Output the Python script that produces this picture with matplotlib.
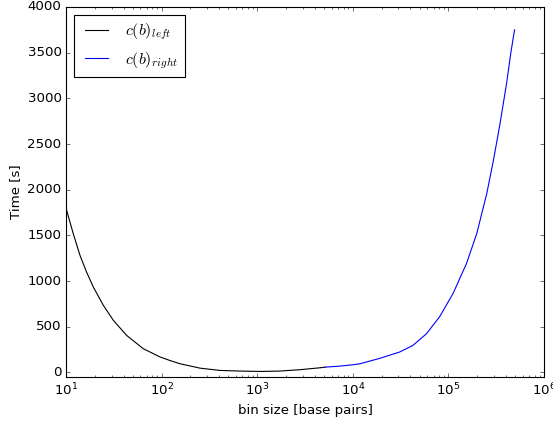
import numpy as np
import matplotlib
matplotlib.use("Agg")
import matplotlib.pyplot as plt

plt.style.use("classic")

# bin size (bp) and time (s)
bins_left = [10, 11.9, 14.0, 16.4, 19.3, 24.6, 31.3, 43.1, 64.3, 96, 122, 156,
             252, 407, 660, 1070, 1730, 2800, 4540, 5150]
time_left = [1800, 1520, 1282, 1099, 935, 734, 570, 405, 260, 170, 131, 95,
             47, 22, 15, 11, 15, 30, 51, 58]

bins_right = [5150, 7300, 10000, 11900, 19000, 30800, 42600, 59000, 81000,
              112000, 155000, 198000, 252000, 296000, 347000, 406000, 450000, 492000]
time_right = [58, 69, 84, 95, 153, 223, 296, 424, 610,
              865, 1195, 1520, 1958, 2323, 2725, 3164, 3500, 3750]

fig = plt.figure(figsize=(553 / 80, 421 / 80), dpi=80)
ax = fig.add_axes([66 / 553, 44 / 421, 478 / 553, 370 / 421])

ax.plot(bins_left, time_left, color="black", label=r"$c(b)_{left}$")
ax.plot(bins_right, time_right, color="blue", label=r"$c(b)_{right}$")

ax.set_xscale("log")
ax.set_xlim(10, 1e6)
ax.set_ylim(-50, 4000)
ax.set_yticks(np.arange(0, 4001, 500))
ax.set_xlabel("bin size [base pairs]")
ax.set_ylabel("Time [s]")
ax.legend(loc="upper left")

fig.savefig("out.png", dpi=80)
